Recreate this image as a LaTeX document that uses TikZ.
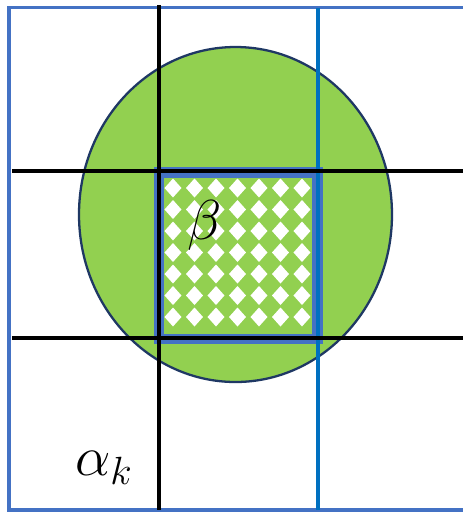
\documentclass[tikz,border=0pt]{standalone}
\usepackage{fix-cm}
\usepackage{xcolor}
\definecolor{frameblue}{HTML}{4472C4}
\definecolor{lineblue}{HTML}{0070C0}
\definecolor{discgreen}{HTML}{92D050}
\definecolor{discedge}{HTML}{1F3864}
\tikzset{
  gridline/.style={black, line width=2.2pt},
  bigmath/.style={inner sep=0pt, font=\fontsize{32}{36}\selectfont},
}

\begin{document}
\begin{tikzpicture}[x=0.02cm, y=-0.02cm]

    \useasboundingbox (0,0) rectangle (463,512);
    \clip (0,0) rectangle (463,512);

    % Outer frame (right side runs off the picture)
    \draw[frameblue, line width=2pt] (480,7.5) -- (9,7.5) -- (9,510) -- (480,510);

    % The disc
    \draw[discedge, fill=discgreen, line width=1.3pt] (235.5,214.5) ellipse [x radius=156.5, y radius=167.5];

    % Patterned cell: green with white diamonds
    \fill[discgreen] (165,178) rectangle (312,333);
    \foreach \i in {0,...,6} {
        \foreach \j in {0,...,6} {
            \fill[white] ({173+21.5*\i},{188+21.5*\j-9.5}) -- ++(8.5,9.5) -- ++(-8.5,9.5) -- ++(-8.5,-9.5) -- cycle;
        }
    }

    % Thick border of the cell
    \draw[frameblue, line width=6.2pt] (159,172.5) rectangle (317.5,339);

    % Blue vertical line
    \draw[lineblue, line width=2pt] (318,7.5) -- (318,510);

    % Black grid lines
    \draw[gridline] (159,5) -- (159,510);
    \draw[gridline] (12,171) -- (463,171);
    \draw[gridline] (12,338) -- (463,338);

    % Labels
    \node[bigmath] (beta) at (205,225) {$\beta$};
    \node[bigmath] (alphak) at (104,468) {$\alpha_k$};

\end{tikzpicture}
\end{document}
